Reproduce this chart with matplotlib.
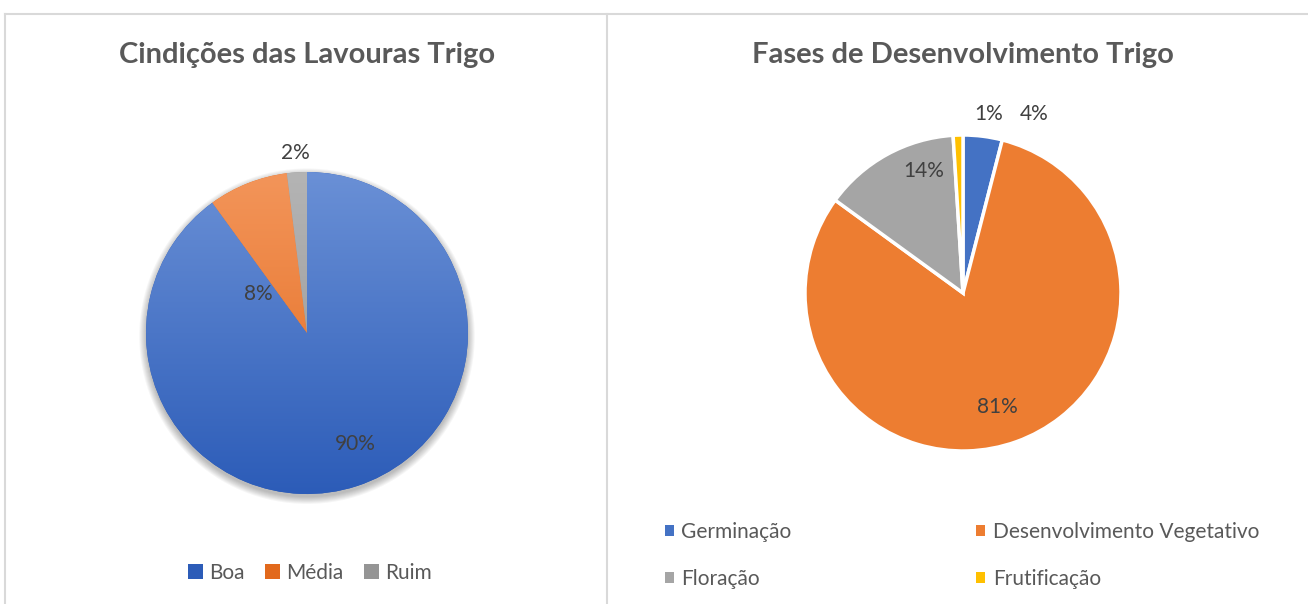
import numpy as np
import matplotlib
matplotlib.use("Agg")
import matplotlib.pyplot as plt
from matplotlib.patches import Patch, Circle
from matplotlib.lines import Line2D
from matplotlib.colors import LinearSegmentedColormap

# ---------------- data ----------------
cond_labels = ["Boa", "Média", "Ruim"]
cond_values = [90, 8, 2]
cond_colors_top = ["#6A90D6", "#F3955A", "#B4B4B4"]
cond_colors_bot = ["#2C5CB8", "#E2691C", "#959595"]

fase_labels = ["Germinação", "Desenvolvimento Vegetativo", "Floração", "Frutificação"]
fase_values = [4, 81, 14, 1]
fase_colors = ["#4472C4", "#ED7D31", "#A5A5A5", "#FFC000"]

title_left = "Cindições das Lavouras Trigo"
title_right = "Fases de Desenvolvimento Trigo"

W, H = 1308, 604
FONT = "Lato"
plt.rcParams["font.family"] = [FONT, "DejaVu Sans"]

fig = plt.figure(figsize=(W / 100, H / 100), dpi=100)
fig.patch.set_facecolor("white")


def pie_axes(cx, cy, r):
    ax = fig.add_axes([(cx - r) / W, (H - cy - r) / H, 2 * r / W, 2 * r / H])
    ax.set_xlim(-1, 1)
    ax.set_ylim(-1, 1)
    ax.set_aspect("equal")
    ax.axis("off")
    return ax


# panel borders
bc = "#D9D9D9"
fig.add_artist(Line2D([5 / W, 1], [1 - 14 / H, 1 - 14 / H], color=bc, lw=1.5, transform=fig.transFigure))
fig.add_artist(Line2D([5 / W, 5 / W], [0, 1 - 14 / H], color=bc, lw=1.5, transform=fig.transFigure))
fig.add_artist(Line2D([607 / W, 607 / W], [0, 1 - 14 / H], color=bc, lw=1.5, transform=fig.transFigure))

# titles
tkw = dict(fontsize=21, fontweight="bold", color="#595959", ha="center", va="center")
fig.text(307 / W, 1 - 55 / H, title_left, **tkw)
fig.text(963 / W, 1 - 55 / H, title_right, **tkw)

# ---------------- left pie ----------------
ax1 = pie_axes(307, 333, 161)
# soft shadow
for k in range(8):
    ax1.add_patch(Circle((0, -0.02), 1.0 + 0.006 * k, facecolor="black",
                         alpha=0.035, edgecolor="none", zorder=0, clip_on=False))
wedges1, _ = ax1.pie(cond_values, startangle=90, counterclock=False, radius=1,
                     colors=cond_colors_bot, wedgeprops=dict(linewidth=0))
grad = np.linspace(1, 0, 256).reshape(-1, 1)
for w, ct, cb in zip(wedges1, cond_colors_top, cond_colors_bot):
    cmap = LinearSegmentedColormap.from_list("g", [cb, ct])
    im = ax1.imshow(grad, extent=[-1, 1, -1, 1], cmap=cmap, aspect="auto", zorder=2, origin="upper")
    im.set_clip_path(w)
ax1.set_xlim(-1, 1)
ax1.set_ylim(-1, 1)

lkw = dict(fontsize=15, color="#404040", ha="center", va="center")
left_label_pos = [(0.30, -0.69), (-0.30, 0.24), (-0.075, 1.12)]
for v, (x, y) in zip(cond_values, left_label_pos):
    ax1.text(x, y, f"{v}%", zorder=5, **lkw)

leg1 = fig.legend(handles=[Patch(facecolor=c, edgecolor="none") for c in cond_colors_bot],
                  labels=cond_labels, loc="center", bbox_to_anchor=(310 / W, 1 - 573 / H),
                  ncol=3, frameon=False, fontsize=15, handlelength=0.7, handleheight=0.7,
                  handletextpad=0.3, columnspacing=1.0, labelcolor="#595959")

# ---------------- right pie ----------------
ax2 = pie_axes(963, 293, 158)
ax2.pie(fase_values, startangle=90, counterclock=False, radius=1, colors=fase_colors,
        wedgeprops=dict(edgecolor="white", linewidth=2.5))
ax2.set_xlim(-1, 1)
ax2.set_ylim(-1, 1)
right_label_pos = [(0.45, 1.13), (0.22, -0.72), (-0.25, 0.77), (0.16, 1.13)]
for v, (x, y) in zip(fase_values, right_label_pos):
    ax2.text(x, y, f"{v}%", zorder=5, **lkw)

order = [0, 2, 1, 3]
leg2 = fig.legend(handles=[Patch(facecolor=fase_colors[i], edgecolor="none") for i in order],
                  labels=[fase_labels[i] for i in order], loc="upper left",
                  bbox_to_anchor=(646 / W, 1 - 503 / H), ncol=2, frameon=False, fontsize=15,
                  handlelength=0.45, handleheight=0.45, handletextpad=0.35, columnspacing=8.85,
                  labelspacing=1.3, labelcolor="#595959")

fig.savefig("out.png", dpi=100, facecolor="white")
